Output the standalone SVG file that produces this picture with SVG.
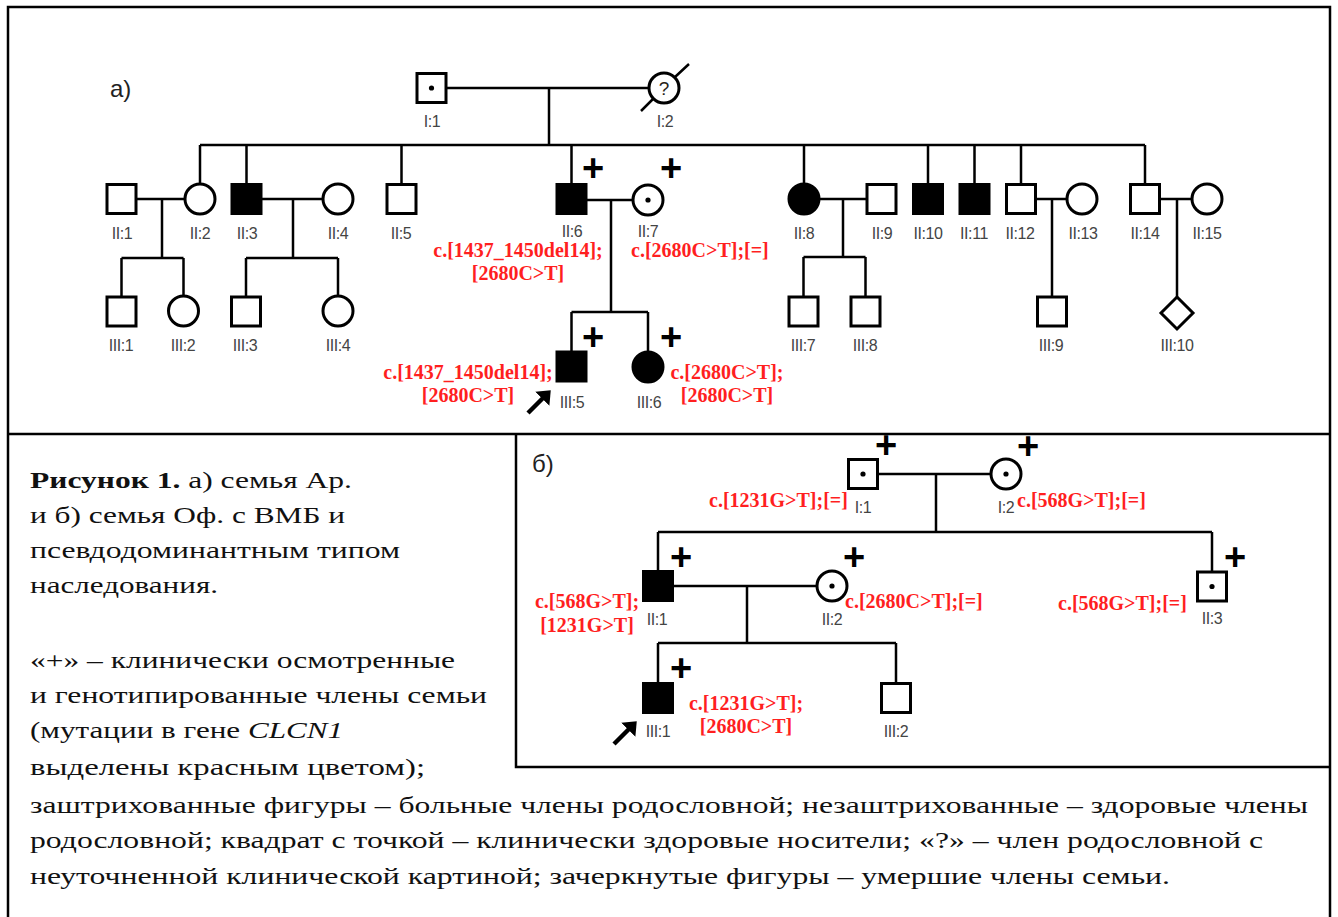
<svg xmlns="http://www.w3.org/2000/svg" width="1338" height="917" viewBox="0 0 1338 917">
<style>
.ln{stroke:#000;stroke-width:2.5;fill:none}
.sym{stroke:#000;stroke-width:3;fill:#fff}
.aff{stroke:#000;stroke-width:3;fill:#000}
.dot{fill:#000}
.lbl{font-family:"Liberation Sans",Arial,sans-serif;font-size:16px;fill:#444;text-anchor:middle;letter-spacing:-0.4px}
.mut{font-family:"Liberation Serif","Times New Roman",serif;font-size:20px;font-weight:bold;fill:#ff1f1f}
.mid{text-anchor:middle}
.plus{font-family:"Liberation Sans",Arial,sans-serif;font-size:38px;font-weight:bold;text-anchor:middle;fill:#000}
.cap{font-family:"Liberation Serif","Times New Roman",serif;font-size:24px;fill:#111}
.ttl{font-family:"Liberation Sans",Arial,sans-serif;font-size:24px;fill:#222}
.q{font-family:"Liberation Sans",Arial,sans-serif;font-size:19px;fill:#2a2418;text-anchor:middle}
.frame{stroke:#000;stroke-width:2.5;fill:none}
.arr{stroke:#000;stroke-width:4.5;fill:none}
</style>
<defs>
<marker id="ah" markerUnits="userSpaceOnUse" markerWidth="12" markerHeight="20" refX="1" refY="10" orient="auto" viewBox="0 0 12 20">
<path d="M0,0 L12,10 L0,20 z" fill="#000"/>
</marker>
</defs>
<rect width="1338" height="917" fill="#fff"/>
<g id="frame" class="frame">
<path d="M8,920 V7 H1330 V920"/>
<path d="M8,434 H1330"/>
<path d="M516,434 V767 H1330"/>
</g>
<text class="ttl" x="110" y="97">a)</text>
<text class="ttl" x="532" y="472">б)</text>

<g id="connectors" class="ln">
<path d="M446,88 H649"/>
<path d="M549,88 V145"/>
<path d="M200,145 H1145"/>
<path d="M200,145 V184 M246.5,145 V184 M401.5,145 V184 M571.5,145 V184 M804,145 V184 M928,145 V184 M974.5,145 V184 M1021,145 V184 M1145,145 V184"/>
<path d="M136,199 H185 M162,199 V258 M121.5,258 H183.5 M121.5,258 V297 M183.5,258 V296"/>
<path d="M261,199 H323 M293,199 V258 M246,258 H338 M246,258 V297 M338,258 V296"/>
<path d="M586,200 H633 M611,200 V312 M571.5,312 H648 M571.5,312 V352 M648,312 V352"/>
<path d="M819,199 H867 M843,199 V257 M803.5,257 H865.5 M803.5,257 V297 M865.5,257 V297"/>
<path d="M1035.5,199 H1067 M1052,199 V297"/>
<path d="M1159.5,199 H1192 M1177,199 V297"/>
<path d="M877.5,474 H991 M936,474 V532 M658,532 H1212 M658,532 V571 M1212,532 V572"/>
<path d="M672.5,586 H817 M747,586 V643 M658,643 H896 M658,643 V683.5 M896,643 V683.5"/>
</g>

<g id="a-I1"><rect class="sym" x="417" y="73.5" width="29" height="29"/><circle class="dot" cx="431.5" cy="88" r="2.6"/><text class="lbl" x="432" y="127">I:1</text></g>
<g id="a-I2"><circle class="sym" cx="664" cy="88" r="15"/><text class="q" x="664" y="95">?</text><path class="ln" d="M641,111 L653.5,98.5 M675,77 L689,64"/><text class="lbl" x="665" y="127">I:2</text></g>

<g id="a-II1"><rect class="sym" x="107" y="184.5" width="29" height="29"/><text class="lbl" x="122" y="239">II:1</text></g>
<g id="a-II2"><circle class="sym" cx="200" cy="199" r="15"/><text class="lbl" x="200" y="239">II:2</text></g>
<g id="a-II3"><rect class="aff" x="232" y="184.5" width="29" height="29"/><text class="lbl" x="247" y="239">II:3</text></g>
<g id="a-II4"><circle class="sym" cx="338" cy="199" r="15"/><text class="lbl" x="338" y="239">II:4</text></g>
<g id="a-II5"><rect class="sym" x="387" y="184.5" width="29" height="29"/><text class="lbl" x="401" y="239">II:5</text></g>
<g id="a-II6"><rect class="aff" x="557" y="184.5" width="29" height="29"/><text class="lbl" x="572" y="237">II:6</text>
<text class="plus" x="593" y="181">+</text>
<text class="mut mid" x="518" y="257">c.[1437_1450del14];</text><text class="mut mid" x="518" y="280">[2680C&gt;T]</text></g>
<g id="a-II7"><circle class="sym" cx="648" cy="200" r="15"/><circle class="dot" cx="648" cy="200" r="2.6"/><text class="lbl" x="648" y="237">II:7</text>
<text class="plus" x="671" y="181">+</text>
<text class="mut" x="631" y="257">c.[2680C&gt;T];[=]</text></g>
<g id="a-II8"><circle class="aff" cx="804" cy="199" r="15"/><text class="lbl" x="804" y="239">II:8</text></g>
<g id="a-II9"><rect class="sym" x="867" y="184.5" width="29" height="29"/><text class="lbl" x="882" y="239">II:9</text></g>
<g id="a-II10"><rect class="aff" x="913.5" y="184.5" width="29" height="29"/><text class="lbl" x="928" y="239">II:10</text></g>
<g id="a-II11"><rect class="aff" x="960" y="184.5" width="29" height="29"/><text class="lbl" x="974" y="239">II:11</text></g>
<g id="a-II12"><rect class="sym" x="1006.5" y="184.5" width="29" height="29"/><text class="lbl" x="1020" y="239">II:12</text></g>
<g id="a-II13"><circle class="sym" cx="1082" cy="199" r="15"/><text class="lbl" x="1083" y="239">II:13</text></g>
<g id="a-II14"><rect class="sym" x="1130.5" y="184.5" width="29" height="29"/><text class="lbl" x="1145" y="239">II:14</text></g>
<g id="a-II15"><circle class="sym" cx="1207" cy="199" r="15"/><text class="lbl" x="1207" y="239">II:15</text></g>

<g id="a-III1"><rect class="sym" x="107" y="297" width="29" height="29"/><text class="lbl" x="121" y="351">III:1</text></g>
<g id="a-III2"><circle class="sym" cx="183.5" cy="311" r="15"/><text class="lbl" x="183" y="351">III:2</text></g>
<g id="a-III3"><rect class="sym" x="231.5" y="297" width="29" height="29"/><text class="lbl" x="245" y="351">III:3</text></g>
<g id="a-III4"><circle class="sym" cx="338" cy="311" r="15"/><text class="lbl" x="338" y="351">III:4</text></g>
<g id="a-III5"><rect class="aff" x="557" y="352" width="29" height="29"/><text class="lbl" x="572" y="408">III:5</text>
<text class="plus" x="593" y="350">+</text>
<text class="mut mid" x="468" y="379">c.[1437_1450del14];</text><text class="mut mid" x="468" y="402">[2680C&gt;T]</text>
<path class="arr" d="M528,413 L543,398" marker-end="url(#ah)"/></g>
<g id="a-III6"><circle class="aff" cx="648" cy="367" r="15"/><text class="lbl" x="649" y="408">III:6</text>
<text class="plus" x="671" y="350">+</text>
<text class="mut mid" x="727" y="379">c.[2680C&gt;T];</text><text class="mut mid" x="727" y="402">[2680C&gt;T]</text></g>
<g id="a-III7"><rect class="sym" x="789" y="297" width="29" height="29"/><text class="lbl" x="803" y="351">III:7</text></g>
<g id="a-III8"><rect class="sym" x="851" y="297" width="29" height="29"/><text class="lbl" x="865" y="351">III:8</text></g>
<g id="a-III9"><rect class="sym" x="1037.5" y="297" width="29" height="29"/><text class="lbl" x="1051" y="351">III:9</text></g>
<g id="a-III10"><path class="sym" d="M1177,297 L1193,313 L1177,329 L1161,313 Z"/><text class="lbl" x="1177" y="351">III:10</text></g>

<g id="b-I1"><rect class="sym" x="848.5" y="459.5" width="29" height="29"/><circle class="dot" cx="863" cy="474" r="2.6"/><text class="lbl" x="863" y="513">I:1</text>
<text class="plus" x="886" y="458">+</text>
<text class="mut" x="709" y="507">c.[1231G&gt;T];[=]</text></g>
<g id="b-I2"><circle class="sym" cx="1006" cy="474" r="15"/><circle class="dot" cx="1006" cy="474" r="2.6"/><text class="lbl" x="1006" y="513">I:2</text>
<text class="plus" x="1028" y="459">+</text>
<text class="mut" x="1017" y="507">c.[568G&gt;T];[=]</text></g>
<g id="b-II1"><rect class="aff" x="643.5" y="571.5" width="29" height="29"/><text class="lbl" x="657" y="625">II:1</text>
<text class="plus" x="681" y="570">+</text>
<text class="mut mid" x="587" y="608">c.[568G&gt;T];</text><text class="mut mid" x="587" y="632">[1231G&gt;T]</text></g>
<g id="b-II2"><circle class="sym" cx="832" cy="586" r="15"/><circle class="dot" cx="832" cy="586" r="2.6"/><text class="lbl" x="832" y="625">II:2</text>
<text class="plus" x="854" y="570">+</text>
<text class="mut" x="845" y="608">c.[2680C&gt;T];[=]</text></g>
<g id="b-II3"><rect class="sym" x="1197.5" y="572" width="29" height="29"/><circle class="dot" cx="1212" cy="586.5" r="2.6"/><text class="lbl" x="1212" y="624">II:3</text>
<text class="plus" x="1235" y="570">+</text>
<text class="mut" x="1058" y="610">c.[568G&gt;T];[=]</text></g>
<g id="b-III1"><rect class="aff" x="643.5" y="683.5" width="29" height="29"/><text class="lbl" x="658" y="737">III:1</text>
<text class="plus" x="681" y="681">+</text>
<text class="mut mid" x="746" y="710">c.[1231G&gt;T];</text><text class="mut mid" x="746" y="733">[2680C&gt;T]</text>
<path class="arr" d="M614,744 L629,729" marker-end="url(#ah)"/></g>
<g id="b-III2"><rect class="sym" x="881.5" y="683.5" width="29" height="29"/><text class="lbl" x="896" y="737">III:2</text></g>

<g id="caption" class="cap">
<text x="30" y="488" textLength="322" lengthAdjust="spacingAndGlyphs"><tspan font-weight="bold">Рисунок 1.</tspan> а) семья Ар.</text>
<text x="30" y="523" textLength="315" lengthAdjust="spacingAndGlyphs">и б) семья Оф. с ВМБ и</text>
<text x="30" y="558" textLength="370" lengthAdjust="spacingAndGlyphs">псевдодоминантным типом</text>
<text x="30" y="593" textLength="188" lengthAdjust="spacingAndGlyphs">наследования.</text>
<text x="30" y="668" textLength="425" lengthAdjust="spacingAndGlyphs">«+» – клинически осмотренные</text>
<text x="30" y="703" textLength="457" lengthAdjust="spacingAndGlyphs">и генотипированные члены семьи</text>
<text x="30" y="738" textLength="313" lengthAdjust="spacingAndGlyphs">(мутации в гене <tspan font-style="italic">CLCN1</tspan></text>
<text x="30" y="775" textLength="395" lengthAdjust="spacingAndGlyphs">выделены красным цветом);</text>
<text x="30" y="813" textLength="1278" lengthAdjust="spacingAndGlyphs">заштрихованные фигуры – больные члены родословной; незаштрихованные – здоровые члены</text>
<text x="30" y="848" textLength="1233" lengthAdjust="spacingAndGlyphs">родословной; квадрат с точкой – клинически здоровые носители; «?» – член родословной с</text>
<text x="30" y="884" textLength="1140" lengthAdjust="spacingAndGlyphs">неуточненной клинической картиной; зачеркнутые фигуры – умершие члены семьи.</text>
</g>
</svg>
